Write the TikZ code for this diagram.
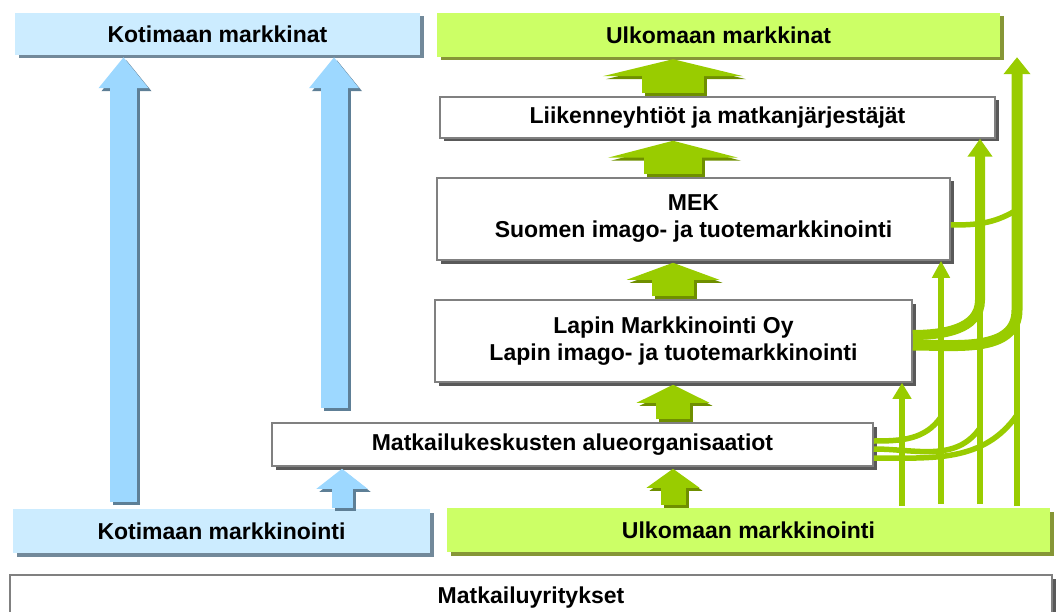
\documentclass[tikz,border=0pt]{standalone}
\usepackage{fontspec}
\setmainfont{Liberation Sans}
\usepackage{xcolor}
\usetikzlibrary{arrows.meta,shadows}

\definecolor{lblue}{HTML}{CCECFF}
\definecolor{sblue}{HTML}{72899A}
\definecolor{ablue}{HTML}{9DD8FF}
\definecolor{dblue}{HTML}{5E7F96}
\definecolor{lgreen}{HTML}{CCFF66}
\definecolor{sgreen}{HTML}{869636}
\definecolor{agreen}{HTML}{99CC00}
\definecolor{dgreen}{HTML}{6F8F00}

\begin{document}
\begin{tikzpicture}[x=1pt,y=-1pt,font=\fontsize{23}{27}\selectfont\bfseries,
  wbox/.style={draw=gray,line width=1.5pt,fill=white,align=center,inner sep=0pt,
    drop shadow={shadow xshift=3.5pt,shadow yshift=-3.5pt,fill=black!65,opacity=1}},
  bbox/.style={fill=lblue,inner sep=0pt,
    drop shadow={shadow xshift=3.5pt,shadow yshift=-3.5pt,fill=sblue,opacity=1}},
  gbox/.style={fill=lgreen,inner sep=0pt,
    drop shadow={shadow xshift=3.5pt,shadow yshift=-3.5pt,fill=sgreen,opacity=1}},
  blk/.style n args={3}{line width=#1,-{Triangle[width=#2,length=#3]}},
  gline/.style={draw=agreen,line width=5.5pt}]
\useasboundingbox (0,0) rectangle (1059,612);

\node[bbox,minimum width=405pt,minimum height=42pt] (kotim) at (217.5,34) {Kotimaan markkinat};
\node[gbox,minimum width=563pt,minimum height=44pt] (ulkm) at (718.5,35) {Ulkomaan markkinat};
\node[wbox,minimum width=555pt,minimum height=41pt] (liik) at (717.5,117.5) {Liikenneyhtiöt ja matkanjärjestäjät};
\node[wbox,minimum width=513pt,minimum height=82pt] (mek) at (693.5,219) {MEK\\Suomen imago- ja tuotemarkkinointi};
\node[wbox,minimum width=477pt,minimum height=82pt] (lapin) at (673.5,341) {Lapin Markkinointi Oy\\Lapin imago- ja tuotemarkkinointi};
\node[wbox,minimum width=601pt,minimum height=43pt] (alue) at (572.5,444.5) {Matkailukeskusten alueorganisaatiot};
\node[bbox,minimum width=417pt,minimum height=44pt] (kotmk) at (221.5,531) {Kotimaan markkinointi};
\node[gbox,minimum width=603pt,minimum height=44pt] (ulkmk) at (748.5,530) {Ulkomaan markkinointi};
\node[wbox,minimum width=1042pt,minimum height=46pt] (yrit) at (531,598) {Matkailuyritykset};

\coordinate (b1) at (123.5,502);
\coordinate (b2) at (334,408);
\coordinate (b3) at (342,508);
\foreach \p/\q/\w/\h/\l in {b1/kotim/27/48/31,b2/kotim/27/48/31,b3/alue/21/50/20} {
  \draw[dblue,blk={\w pt}{\h pt}{\l pt},shorten >=2pt]
    ([xshift=3pt,yshift=-3pt]\p) -- ([xshift=3pt,yshift=-3pt]\p |- \q.south);
  \draw[ablue,blk={\w pt}{\h pt}{\l pt},shorten >=2pt] (\p) -- (\p |- \q.south);
}

\coordinate (gx) at (673,0);
\foreach \s/\e/\w/\h/\l in {liik/ulkm/62/140/17,mek/liik/58/130/17,
    lapin/mek/42/92/17,alue/lapin/34/72/18,ulkmk/alue/25/52/19} {
  \draw[dgreen,blk={\w pt}{\h pt}{\l pt},shorten <=3pt,shorten >=2pt]
    ([xshift=3pt,yshift=-3pt]gx |- \s.north) -- ([xshift=3pt,yshift=-3pt]gx |- \e.south);
  \draw[agreen,blk={\w pt}{\h pt}{\l pt},shorten <=3pt,shorten >=2pt]
    (gx |- \s.north) -- (gx |- \e.south);
}

\coordinate (la) at (902,506);
\coordinate (lb) at (941,504);
\coordinate (lc) at (980,504);
\coordinate (ld) at (1017,506);
\draw[gline] ([yshift=3.5pt]alue.east) to[out=0,in=-125] (941,417);
\draw[gline] ([yshift=-4.5pt]alue.east) to[out=0,in=-125] (980,428);
\draw[gline] ([yshift=-13.5pt]alue.east) to[out=0,in=-125] (1017,415);
\draw[gline] ([yshift=-6pt]mek.east) to[out=0,in=-150] (1015,211);
\draw[gline] (lc) -- (980,300);
\draw[gline] (ld) -- (1017,310);
\draw[gline,line width=10pt,-{Triangle[width=24pt,length=18pt]}]
  ([yshift=6pt]lapin.east) to[out=0,in=-90] (980,300) -- (lc |- liik.south);
\draw[gline,line width=11pt,-{Triangle[width=26pt,length=17pt]}]
  ([yshift=-4pt]lapin.east) to[out=0,in=-90] (1017,310) -- (ld |- ulkm.south);
\draw[gline,-{Triangle[width=18pt,length=16pt]}] (la) -- (la |- lapin.south);
\draw[gline,-{Triangle[width=17pt,length=17pt]}] (lb) -- (lb |- mek.south);
\end{tikzpicture}
\end{document}
